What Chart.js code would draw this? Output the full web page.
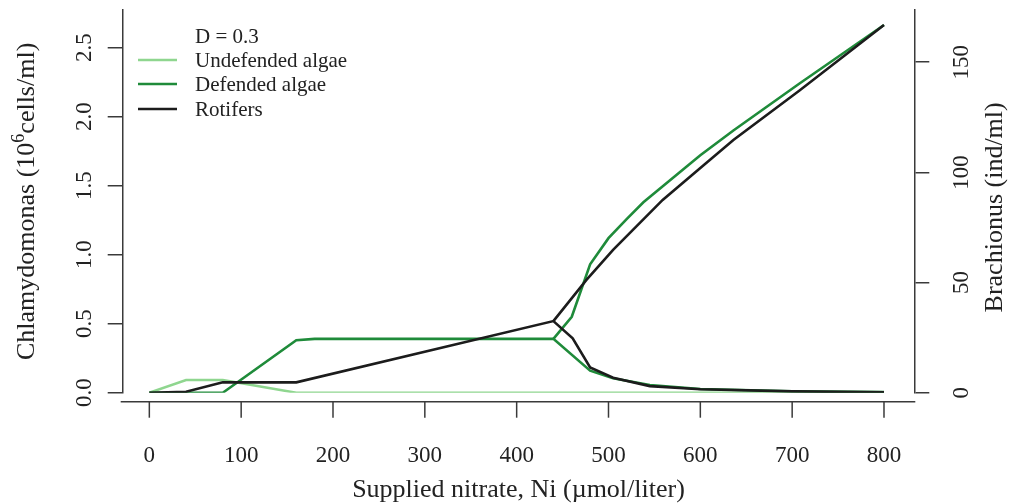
<!DOCTYPE html>
<html><head><meta charset="utf-8">
<script src="https://cdn.jsdelivr.net/npm/chart.js@4.4.0/dist/chart.umd.min.js"></script>
<style>html,body{margin:0;padding:0;background:#fff;}#wrap{width:1011px;height:504px;position:relative;}</style>
</head><body><div id="wrap"><canvas id="c"></canvas></div>
<script>
// ---- data ----
const xTicks = [0, 100, 200, 300, 400, 500, 600, 700, 800];
const leftTicks = [0, 0.5, 1, 1.5, 2, 2.5];
const leftTickLabels = ["0.0", "0.5", "1.0", "1.5", "2.0", "2.5"];
const rightTicks = [0, 50, 100, 150];
const rightTickLabels = ["0", "50", "100", "150"];

// Undefended algae (10^6 cells/ml)
const undefX = [0, 40, 80, 160, 800];
const undefY = [0, 0.092, 0.092, 0, 0];
// Defended algae, lower branch
const defLowX = [0, 80, 160, 180, 440, 480, 505, 545, 600, 700, 800];
const defLowY = [0, 0, 0.38, 0.39, 0.39, 0.16, 0.104, 0.056, 0.027, 0.01, 0.004];
// Defended algae, upper branch
const defHighX = [440, 460, 480, 500, 520, 538, 600, 636, 708, 800];
const defHighY = [0.39, 0.55, 0.93, 1.12, 1.26, 1.38, 1.72, 1.90, 2.24, 2.664];
// Rotifers (ind/ml), lower branch
const rotLowX = [0, 40, 80, 160, 440, 461, 480, 505, 545, 600, 700, 800];
const rotLowY = [0, 0.45, 4.7, 4.7, 32.5, 24.7, 11.5, 6.8, 3.0, 1.6, 0.6, 0.2];
// Rotifers, upper branch
const rotHighX = [440, 476, 505, 559, 600, 636, 708, 800];
const rotHighY = [32.5, 51.2, 64.8, 87.5, 102, 114.7, 137.2, 166.9];

const COL_UNDEF = '#8fd68f';
const COL_DEF = '#1f8b3a';
const COL_ROT = '#1c1c1c';
const FONT = "'Liberation Serif', 'Times New Roman', serif";
const AXIS_COL = '#3a3a3a';

function pts(xs, ys) { return xs.map((x, i) => ({ x: x, y: ys[i] })); }

function ds(label, xs, ys, color, axis, order) {
  return { label: label, data: pts(xs, ys), borderColor: color, backgroundColor: color,
    borderWidth: 2.6, pointRadius: 0, tension: 0, fill: false, yAxisID: axis, order: order };
}

const decor = {
  id: 'decor',
  afterDraw(chart) {
    const ctx = chart.ctx;
    const ca = chart.chartArea;
    const xs = chart.scales.x, yl = chart.scales.y, yr = chart.scales.y2;
    ctx.save();
    // x axis line (offset below plot region) and ticks
    const axY = ca.bottom + 9;
    ctx.strokeStyle = AXIS_COL; ctx.lineWidth = 1.5;
    ctx.beginPath(); ctx.moveTo(ca.left - 2, axY); ctx.lineTo(ca.right + 1, axY); ctx.stroke();
    xTicks.forEach(v => {
      const px = xs.getPixelForValue(v);
      ctx.beginPath(); ctx.moveTo(px, axY); ctx.lineTo(px, axY + 16); ctx.stroke();
    });
    // y tick labels (rotated, as in R)
    ctx.fillStyle = '#222';
    ctx.font = "23px " + FONT;
    ctx.textAlign = 'center'; ctx.textBaseline = 'middle';
    leftTicks.forEach((v, i) => {
      ctx.save(); ctx.translate(85, yl.getPixelForValue(v)); ctx.rotate(-Math.PI / 2);
      ctx.fillText(leftTickLabels[i], 0, 0); ctx.restore();
    });
    rightTicks.forEach((v, i) => {
      ctx.save(); ctx.translate(962, yr.getPixelForValue(v)); ctx.rotate(-Math.PI / 2);
      ctx.fillText(rightTickLabels[i], 0, 0); ctx.restore();
    });
    // y titles
    const midY = (ca.top + ca.bottom) / 2;
    const p1 = 'Chlamydomonas (10', p2 = '6', p3 = 'cells/ml)';
    ctx.font = "26px " + FONT; const w1 = ctx.measureText(p1).width, w3 = ctx.measureText(p3).width;
    ctx.font = "18px " + FONT; const w2 = ctx.measureText(p2).width;
    const tot = w1 + w2 + w3;
    ctx.save(); ctx.translate(27, midY); ctx.rotate(-Math.PI / 2);
    ctx.textAlign = 'left';
    ctx.font = "26px " + FONT; ctx.fillText(p1, -tot / 2, 0);
    ctx.font = "18px " + FONT; ctx.fillText(p2, -tot / 2 + w1, -8);
    ctx.font = "26px " + FONT; ctx.fillText(p3, -tot / 2 + w1 + w2, 0);
    ctx.restore();
    ctx.save(); ctx.translate(995, midY + 6); ctx.rotate(-Math.PI / 2);
    ctx.textAlign = 'center'; ctx.font = "26px " + FONT;
    ctx.fillText('Brachionus (ind/ml)', 0, 0); ctx.restore();
    // legend
    ctx.font = "21px " + FONT; ctx.textAlign = 'left'; ctx.textBaseline = 'middle';
    ctx.fillText('D = 0.3', 195, 37);
    const items = [['Undefended algae', COL_UNDEF, 60], ['Defended algae', COL_DEF, 84], ['Rotifers', COL_ROT, 109]];
    items.forEach(it => {
      ctx.strokeStyle = it[1]; ctx.lineWidth = 2.6;
      ctx.beginPath(); ctx.moveTo(138, it[2]); ctx.lineTo(177, it[2]); ctx.stroke();
      ctx.fillStyle = '#222'; ctx.fillText(it[0], 195, it[2] + 1);
    });
    ctx.restore();
  }
};

new Chart(document.getElementById('c'), {
  type: 'line',
  data: {
    datasets: [
      ds('Rotifers', rotLowX, rotLowY, COL_ROT, 'y2', 0),
      ds('Rotifers (upper)', rotHighX, rotHighY, COL_ROT, 'y2', 0),
      ds('Defended algae', defLowX, defLowY, COL_DEF, 'y', 1),
      ds('Defended algae (upper)', defHighX, defHighY, COL_DEF, 'y', 1),
      ds('Undefended algae', undefX, undefY, COL_UNDEF, 'y', 2)
    ]
  },
  options: {
    responsive: true, maintainAspectRatio: false, animation: false,
    layout: { padding: { top: 10, left: 0, right: 0, bottom: 0 } },
    plugins: { legend: { display: false }, tooltip: { enabled: false } },
    scales: {
      x: {
        type: 'linear', position: 'bottom', min: -29, max: 833,
        afterBuildTicks: s => { s.ticks = xTicks.map(v => ({ value: v })); },
        afterFit: s => { s.height = 111.3; },
        grid: { display: false, drawTicks: false },
        border: { display: false },
        ticks: { padding: 49, color: '#222', font: { family: FONT, size: 23 }, maxRotation: 0 },
        title: { display: true, text: 'Supplied nitrate, Ni (\u00b5mol/liter)', color: '#222',
          font: { family: FONT, size: 26, lineHeight: 1.0 }, padding: { top: 0, bottom: 1 } }
      },
      y: {
        type: 'linear', position: 'left', min: 0, max: 2.773,
        afterBuildTicks: s => { s.ticks = leftTicks.map(v => ({ value: v })); },
        afterFit: s => { s.width = 122.7; },
        grid: { display: true, drawOnChartArea: false, drawTicks: true, tickLength: 15, color: AXIS_COL, lineWidth: 1.5 },
        border: { display: true, color: AXIS_COL, width: 1.5 },
        ticks: { display: false }
      },
      y2: {
        type: 'linear', position: 'right', min: 0, max: 173.7,
        afterBuildTicks: s => { s.ticks = rightTicks.map(v => ({ value: v })); },
        afterFit: s => { s.width = 96.7; },
        grid: { display: true, drawOnChartArea: false, drawTicks: true, tickLength: 15, color: AXIS_COL, lineWidth: 1.5 },
        border: { display: true, color: AXIS_COL, width: 1.5 },
        ticks: { display: false }
      }
    }
  },
  plugins: [decor]
});
</script></body></html>
